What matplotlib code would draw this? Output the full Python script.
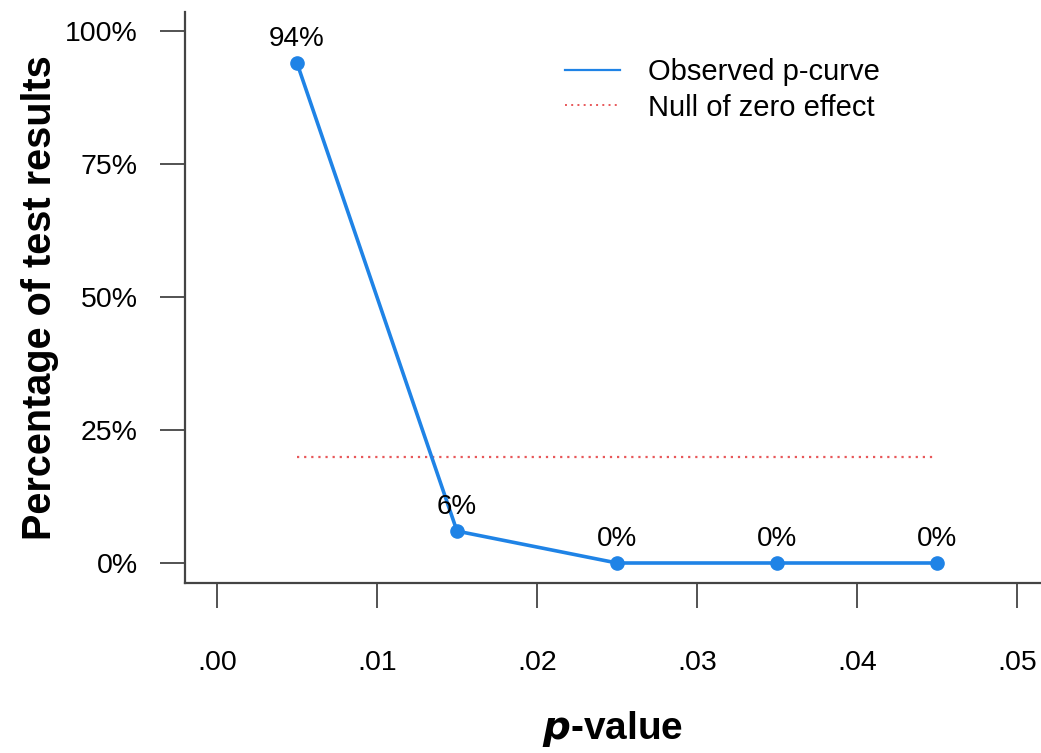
import matplotlib

matplotlib.use("Agg")
import matplotlib.pyplot as plt
from matplotlib.lines import Line2D

plt.rcParams["font.family"] = ["Liberation Sans", "DejaVu Sans"]

# p-curve bins (midpoints) and share of significant results per bin
p_bins = [0.005, 0.015, 0.025, 0.035, 0.045]
observed = [94, 6, 0, 0, 0]
obs_labels = ["94%", "6%", "0%", "0%", "0%"]
null_level = [20, 20, 20, 20, 20]

x_ticks = [0.00, 0.01, 0.02, 0.03, 0.04, 0.05]
x_tick_labels = [".00", ".01", ".02", ".03", ".04", ".05"]
y_ticks = [0, 25, 50, 75, 100]
y_tick_labels = ["0%", "25%", "50%", "75%", "100%"]

C_OBS = "#1f83e6"
C_NULL = "#e8585a"

W, H = 1041, 753
fig = plt.figure(figsize=(W / 100, H / 100), dpi=100)
ax = fig.add_axes([185 / W, 1 - 583 / H, (W - 185) / W, (583 - 12) / H])

ax.plot(p_bins, observed, color=C_OBS, lw=2.6, marker="o", ms=9.5, zorder=3)
ax.plot(p_bins, null_level, color=C_NULL, lw=1.6, ls=(0, (1, 2.2)), zorder=2)

for x, y, lab in zip(p_bins, observed, obs_labels):
    ax.annotate(lab, (x, y), xytext=(0, 8), textcoords="offset points",
                ha="center", va="bottom", fontsize=20)

ax.set_xlim(-0.002, 0.0515)
ax.set_ylim(-3.76, 103.6)
ax.set_xticks(x_ticks, x_tick_labels)
ax.set_yticks(y_ticks, y_tick_labels)
ax.tick_params(axis="both", direction="out", length=18, width=1.3,
               color="#444444", labelsize=20.5)
ax.tick_params(axis="x", pad=30)
ax.tick_params(axis="y", pad=16)

for side in ("top", "right"):
    ax.spines[side].set_visible(False)
for side in ("left", "bottom"):
    ax.spines[side].set_color("#444444")
    ax.spines[side].set_linewidth(1.6)

ax.set_ylabel("Percentage of test results", fontsize=28.5, fontweight="bold",
              labelpad=4)
ax.set_xlabel(r"$\boldsymbol{p}$-value", fontsize=28, fontweight="bold",
              labelpad=24)

handles = [
    Line2D([], [], color=C_OBS, lw=1.6),
    Line2D([], [], color=C_NULL, lw=1.4, ls=(0, (1, 2.2))),
]
ax.legend(handles, ["Observed p-curve", "Null of zero effect"],
          loc="upper left", bbox_to_anchor=(0.413, 0.965), frameon=False,
          fontsize=21, handlelength=1.9, handletextpad=0.95,
          labelspacing=0.25)

fig.savefig("out.png", dpi=100)
